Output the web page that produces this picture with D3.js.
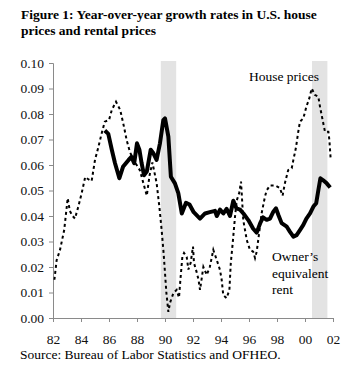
<!DOCTYPE html>
<html>
<head>
<meta charset="utf-8">
<script src="https://cdn.jsdelivr.net/npm/d3@7"></script>
<style>
  body { margin: 0; background: #fff; }
  text { font-family: "Liberation Serif", "Times New Roman", serif; }
</style>
</head>
<body>
<div id="plot"></div>
<script>
// House prices (OFHEO), year-over-year growth
var housePrices = [
  [1982.1,0.015],[1982.26,0.0227],[1982.5,0.0267],[1982.8,0.0345],[1982.93,0.041],[1983.05,0.047],
  [1983.2,0.042],[1983.4,0.040],[1983.57,0.039],[1983.8,0.0435],[1984.05,0.049],[1984.3,0.0553],
  [1984.5,0.0545],[1984.76,0.0537],[1985.0,0.062],[1985.24,0.067],[1985.48,0.0725],[1985.7,0.077],
  [1986.0,0.0776],[1986.2,0.0816],[1986.5,0.0848],[1986.8,0.0816],[1987.07,0.075],[1987.26,0.0698],
  [1987.5,0.065],[1987.86,0.061],[1988.2,0.058],[1988.5,0.052],[1988.7,0.048],[1988.9,0.056],
  [1989.1,0.061],[1989.4,0.053],[1989.6,0.0435],[1989.76,0.0345],[1989.9,0.0255],[1990.0,0.0176],
  [1990.1,0.0098],[1990.24,0.0024],[1990.36,0.006],[1990.6,0.0098],[1990.83,0.011],[1991.0,0.008],
  [1991.1,0.015],[1991.24,0.024],[1991.36,0.0255],[1991.55,0.024],[1991.67,0.019],[1991.83,0.0216],
  [1992.0,0.028],[1992.07,0.0216],[1992.26,0.018],[1992.4,0.0149],[1992.5,0.011],[1992.74,0.020],
  [1992.98,0.0169],[1993.2,0.020],[1993.45,0.0267],[1993.7,0.0227],[1993.93,0.0188],[1994.05,0.0149],
  [1994.16,0.009],[1994.4,0.0078],[1994.6,0.011],[1994.7,0.0216],[1994.83,0.029],[1995.0,0.0397],
  [1995.12,0.046],[1995.3,0.049],[1995.43,0.0535],[1995.59,0.0384],[1995.84,0.0306],[1996.07,0.0267],
  [1996.3,0.026],[1996.43,0.0235],[1996.55,0.026],[1996.66,0.0306],[1996.9,0.041],[1997.14,0.0476],
  [1997.26,0.050],[1997.5,0.052],[1997.86,0.052],[1998.2,0.051],[1998.4,0.048],[1998.57,0.053],
  [1998.8,0.058],[1999.05,0.0587],[1999.17,0.062],[1999.36,0.067],[1999.5,0.0724],[1999.64,0.077],
  [1999.88,0.0783],[2000.1,0.0829],[2000.3,0.086],[2000.48,0.090],[2000.7,0.0875],[2000.95,0.0868],
  [2001.07,0.0829],[2001.26,0.0776],[2001.43,0.073],[2001.67,0.073],[2001.74,0.0698],[2001.83,0.0626]
];

// Owner's equivalent rent (BLS)
var ownersRent = [
  [1985.7,0.0735],[1985.95,0.0722],[1986.2,0.066],[1986.43,0.0607],[1986.74,0.0548],[1987.0,0.0593],
  [1987.4,0.062],[1987.6,0.0632],[1987.8,0.0607],[1988.0,0.0685],[1988.17,0.066],[1988.33,0.0607],
  [1988.5,0.056],[1988.7,0.0574],[1988.98,0.066],[1989.17,0.0646],[1989.4,0.062],[1989.64,0.0685],
  [1989.88,0.0776],[1990.0,0.0783],[1990.24,0.0711],[1990.42,0.0554],[1990.71,0.0528],[1990.95,0.049],
  [1991.2,0.041],[1991.5,0.0452],[1991.75,0.0445],[1992.05,0.0415],[1992.5,0.039],[1992.86,0.041],
  [1993.2,0.0415],[1993.57,0.042],[1993.7,0.040],[1993.93,0.0425],[1994.17,0.041],[1994.4,0.0428],
  [1994.64,0.040],[1994.88,0.046],[1995.1,0.043],[1995.36,0.0425],[1995.6,0.041],[1995.95,0.0384],
  [1996.3,0.035],[1996.55,0.0335],[1996.8,0.0372],[1997.0,0.0395],[1997.26,0.0385],[1997.5,0.039],
  [1997.74,0.0417],[1997.93,0.043],[1998.1,0.0404],[1998.33,0.0372],[1998.7,0.0358],[1998.93,0.0338],
  [1999.17,0.0319],[1999.4,0.0325],[1999.64,0.0345],[1999.88,0.0365],[2000.1,0.039],[2000.36,0.041],
  [2000.6,0.0437],[2000.8,0.045],[2000.95,0.050],[2001.1,0.0548],[2001.3,0.054],[2001.55,0.0528],
  [2001.8,0.0512]
];

// Recessions (shaded)
var recessions = [[1989.7, 1990.8], [2000.5, 2001.6]];

var xTicks = [1982,1984,1986,1988,1990,1992,1994,1996,1998,2000,2002];
var yTicks = [0,0.01,0.02,0.03,0.04,0.05,0.06,0.07,0.08,0.09,0.10];

var titleLines = ["Figure 1:  Year-over-year growth rates in U.S. house", "prices and rental prices"];
var sourceText = "Source: Bureau of Labor Statistics and OFHEO.";

var chartWidth = 350, chartHeight = 378;
const margin = {top: 63, right: 17, bottom: 60, left: 53};
var w = chartWidth - margin.left - margin.right;
var h = chartHeight - margin.top - margin.bottom;

var root = d3.select("#plot")
  .append("svg")
  .attr("width", chartWidth)
  .attr("height", chartHeight);

// title
root.append("text")
  .attr("x", 21)
  .attr("y", 19)
  .style("font-weight", "bold")
  .style("font-size", "13.5px")
  .selectAll("tspan")
  .data(titleLines)
  .enter()
  .append("tspan")
  .attr("x", 21)
  .attr("dy", function(d, i) { return i ? 16 : 0; })
  .text(function(d) { return d; });

var svg = root.append("g")
  .attr("transform", "translate(" + margin.left + "," + margin.top + ")");

var x = d3.scaleLinear().domain([1982, 2002]).range([0, w]);
var y = d3.scaleLinear().domain([0, 0.10]).range([h, 0]);

// shaded bands
svg.selectAll(".band")
  .data(recessions)
  .enter()
  .append("rect")
  .attr("class", "band")
  .attr("x", function(d) { return x(d[0]); })
  .attr("width", function(d) { return x(d[1]) - x(d[0]); })
  .attr("y", y(0.10) - 2)
  .attr("height", h + 2)
  .attr("fill", "#e3e3e3");

// axes
var yAxis = svg.append("g")
  .call(d3.axisLeft(y).tickValues(yTicks).tickFormat(d3.format(".2f")).tickSize(4).tickPadding(5));

var xAxis = svg.append("g")
  .attr("transform", "translate(0," + h + ")")
  .call(d3.axisBottom(x).tickValues(xTicks)
    .tickFormat(function(d) { return String(d % 100).padStart(2, "0"); })
    .tickSize(4).tickPadding(12));

[xAxis, yAxis].forEach(function(a) {
  a.select(".domain").attr("stroke", "#8a8a8a");
  a.selectAll(".tick line").attr("stroke", "#8a8a8a");
  a.selectAll("text")
    .style("font-family", "'Liberation Serif', serif")
    .style("font-size", "13.5px")
    .attr("fill", "#111");
});

var line = d3.line()
  .x(function(d) { return x(d[0]); })
  .y(function(d) { return y(d[1]); });

svg.append("path")
  .datum(housePrices)
  .attr("d", line)
  .attr("fill", "none")
  .attr("stroke", "#000")
  .attr("stroke-width", 2)
  .attr("stroke-dasharray", "3,3");

svg.append("path")
  .datum(ownersRent)
  .attr("d", line)
  .attr("fill", "none")
  .attr("stroke", "#000")
  .attr("stroke-width", 4)
  .attr("stroke-linejoin", "round");

// series labels
root.append("text")
  .attr("x", 249)
  .attr("y", 81)
  .style("font-size", "13.5px")
  .text("House prices");

root.append("text")
  .attr("x", 272)
  .attr("y", 261)
  .style("font-size", "13.5px")
  .selectAll("tspan")
  .data(["Owner\u2019s", "equivalent", "rent"])
  .enter()
  .append("tspan")
  .attr("x", 272)
  .attr("dy", function(d, i) { return i ? 16.5 : 0; })
  .text(function(d) { return d; });

root.append("text")
  .attr("x", 20)
  .attr("y", 359)
  .style("font-size", "13.5px")
  .text(sourceText);
</script>
</body>
</html>
